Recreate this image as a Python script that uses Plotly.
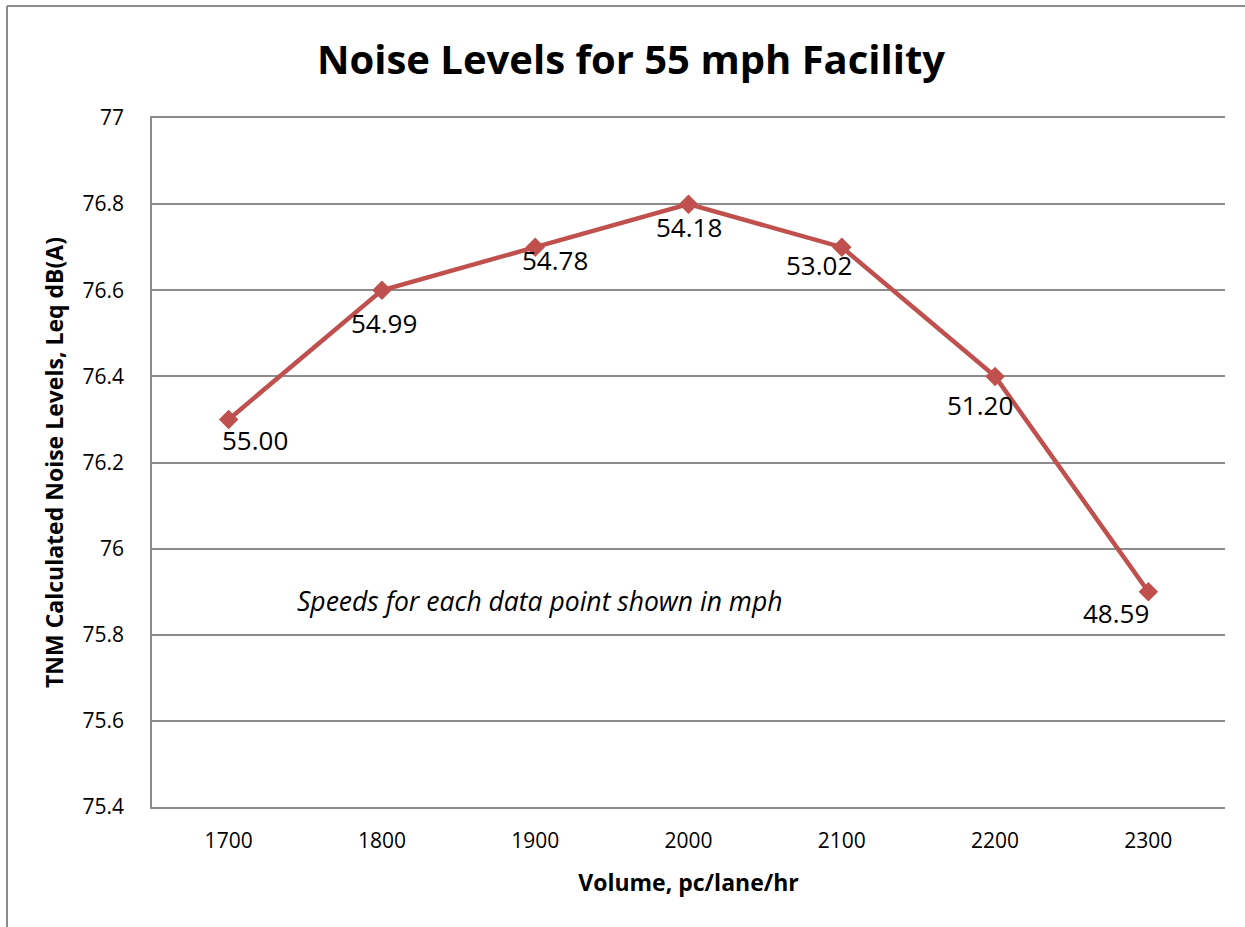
import plotly.graph_objects as go

volumes = ["1700", "1800", "1900", "2000", "2100", "2200", "2300"]
noise = [76.3, 76.6, 76.7, 76.8, 76.7, 76.4, 75.9]
speeds = ["55.00", "54.99", "54.78", "54.18", "53.02", "51.20", "48.59"]
y_ticks = [75.4, 75.6, 75.8, 76, 76.2, 76.4, 76.6, 76.8, 77]
y_tick_text = ["75.4", "75.6", "75.8", "76", "76.2", "76.4", "76.6", "76.8", "77"]

# label offsets (px) relative to each point, as placed in the original
label_dx = [26, 2, 20, 0, -23, -15, -32]
label_dy = [-21, -33, -13, -23, -18, -29, -21]

W, H = 1245, 927
L, R, T, B = 152, 1225, 118, 807
FONT = "Open Sans"
LINE = "#C0504D"
GRID = "#8C8C8C"

fig = go.Figure()
fig.add_trace(go.Scatter(
    x=volumes, y=noise, mode="lines+markers",
    line=dict(color=LINE, width=4.5),
    marker=dict(symbol="diamond", size=15, color=LINE),
    showlegend=False, hoverinfo="skip",
))

for i, (yv, s, dx, dy) in enumerate(zip(noise, speeds, label_dx, label_dy)):
    fig.add_annotation(x=i, y=yv, xref="x", yref="y", text=s, showarrow=False,
                       xshift=dx, yshift=dy, xanchor="center", yanchor="middle",
                       font=dict(family=FONT, size=26, color="black"))

pw, ph = R - L, B - T
fig.add_annotation(x=(540 - L) / pw, y=(B - 601) / ph, xref="paper", yref="paper",
                   xanchor="center", yanchor="middle",
                   text="<i>Speeds for each data point shown in mph</i>",
                   showarrow=False, font=dict(family=FONT, size=26.5, color="black"))

fig.add_shape(type="line", xref="paper", yref="paper",
              x0=(7 - L) / pw, x1=(7 - L) / pw,
              y0=(B - 6) / ph, y1=(B - 940) / ph,
              line=dict(color=GRID, width=2))
fig.add_shape(type="line", xref="paper", yref="paper",
              x0=(7 - L) / pw, x1=(1260 - L) / pw,
              y0=(B - 6) / ph, y1=(B - 6) / ph,
              line=dict(color=GRID, width=2))

fig.update_layout(
    width=W, height=H,
    margin=dict(l=L, r=W - R, t=T, b=H - B),
    paper_bgcolor="white", plot_bgcolor="white",
    title=dict(text="<b>Noise Levels for 55 mph Facility</b>",
               x=631 / W, xanchor="center", y=1 - 60 / H, yanchor="middle",
               font=dict(family=FONT, size=40, color="black")),
    xaxis=dict(type="category", range=[-0.5, 6.5], showgrid=False,
               showline=True, mirror=True, linecolor=GRID, linewidth=1.5,
               ticks="outside", ticklen=14, tickcolor="white",
               zeroline=False,
               tickfont=dict(family=FONT, size=21, color="black"),
               title=dict(text="<b>Volume, pc/lane/hr</b>", standoff=22,
                          font=dict(family=FONT, size=23, color="black"))),
    yaxis=dict(range=[75.4, 77], tickvals=y_ticks, ticktext=y_tick_text,
               showgrid=True, gridcolor=GRID, gridwidth=1.5,
               showline=True, linecolor=GRID, linewidth=1.5,
               zeroline=False, ticks="outside", ticklen=22, tickcolor="white",
               tickfont=dict(family=FONT, size=21, color="black"),
               title=dict(text="<b>TNM Calculated Noise Levels, Leq dB(A)</b>",
                          standoff=12,
                          font=dict(family=FONT, size=23, color="black"))),
)

fig.write_html("out.html", config={"displayModeBar": False},
               post_script="document.body.style.margin='0';")
